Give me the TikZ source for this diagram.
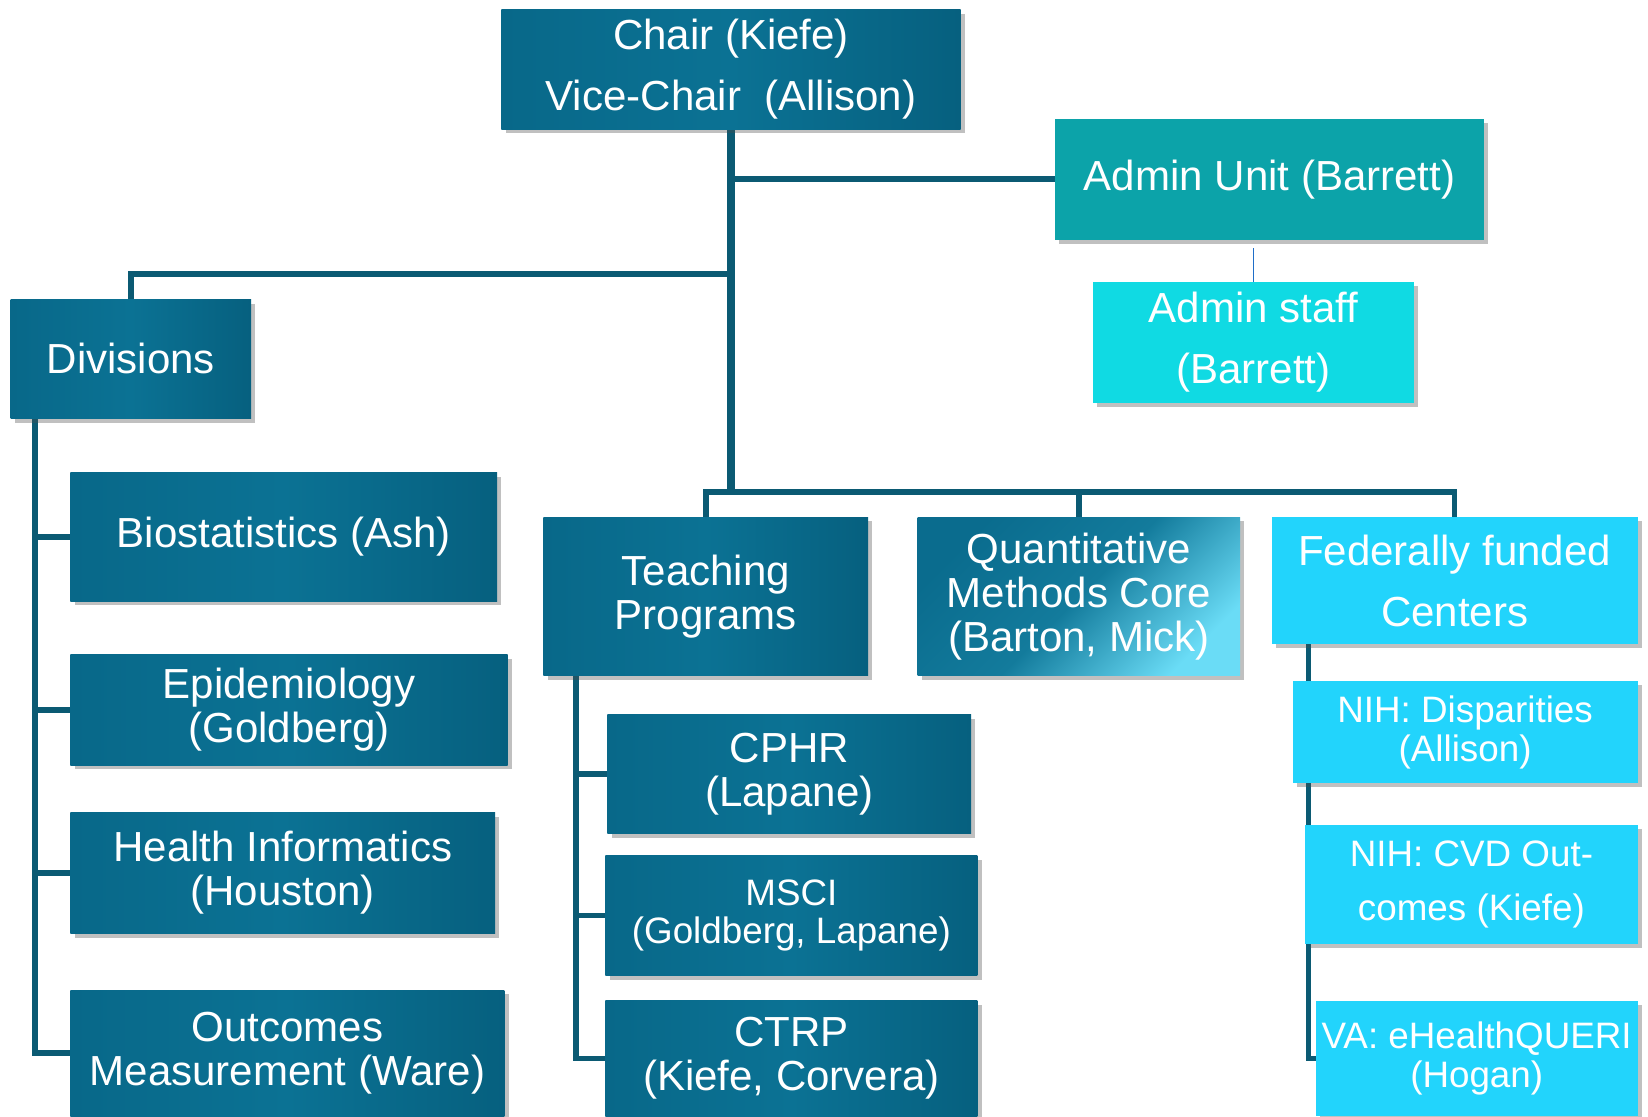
\documentclass[tikz,border=0pt]{standalone}
\usepackage{fontspec}
\setmainfont{Liberation Sans}
\usetikzlibrary{shadows,backgrounds,calc}
\definecolor{boxA}{HTML}{086889}
\definecolor{boxB}{HTML}{0B7294}
\definecolor{boxC}{HTML}{06607F}
\definecolor{qA}{HTML}{0A6C8E}
\definecolor{qB}{HTML}{137B9C}
\definecolor{qC}{HTML}{6ADCF6}
\definecolor{adminc}{HTML}{0CA3A9}
\definecolor{staffc}{HTML}{10DAE3}
\definecolor{fedc}{HTML}{22D4FC}
\definecolor{linec}{HTML}{0B5A73}
\definecolor{thinblue}{HTML}{1F6EC8}
\tikzset{
  base/.style={inner sep=0pt, outer sep=0pt, align=center, text=white,
    font=\fontsize{20}{21}\selectfont,
    drop shadow={shadow xshift=2pt, shadow yshift=-2pt, opacity=0.35, fill=black!70}},
  darkbox/.style={base, left color=boxA, right color=boxC, middle color=boxB},
  quantbox/.style={base, left color=qA, right color=qC, middle color=qB, shading angle=45},
  adminbox/.style={base, fill=adminc},
  staffbox/.style={base, fill=staffc},
  fedbox/.style={base, fill=fedc},
  widelines/.style={font=\fontsize{20}{29}\selectfont},
  smalltext/.style={font=\fontsize{17.5}{18.5}\selectfont},
  conn/.style={draw=linec, line width=2.7pt},
  trunk/.style={draw=linec, line width=3.4pt},
  thinconn/.style={draw=thinblue, line width=0.7pt},
  sz/.style 2 args={minimum width=#1pt, minimum height=#2pt}
}
\begin{document}
\begin{tikzpicture}[x=0.5pt,y=-0.5pt]
\useasboundingbox (0,0) rectangle (1568,1062);
\clip (0,0) rectangle (1568,1062);

\node[darkbox, widelines, sz={218.5}{57}] (chair) at (695.5,66) {Chair (Kiefe)\\Vice-Chair\ \ (Allison)};
\node[adminbox, sz={204}{57.5}] (admin) at (1208,170.5) {Admin Unit (Barrett)};
\node[staffbox, widelines, sz={152.5}{57.5}] (staff) at (1192.5,325.5) {Admin staff\\(Barrett)};

\node[darkbox, sz={114.5}{56.5}] (div) at (124.5,341.5) {Divisions};
\node[darkbox, sz={203}{61}] (bio) at (270,511) {Biostatistics (Ash)};
\node[darkbox, sz={208}{52.5}] (epi) at (275,675.5) {Epidemiology\\(Goldberg)};
\node[darkbox, sz={202}{57.5}] (hi) at (269,830.5) {Health Informatics\\(Houston)};
\node[darkbox, sz={206.5}{60}] (out) at (273.5,1002) {Outcomes\\Measurement (Ware)};

\node[darkbox, sz={154.5}{75.5}] (teach) at (671.5,567.5) {Teaching\\Programs};
\node[quantbox, sz={153.5}{75.5}] (quant) at (1026.5,567.5) {Quantitative\\Methods Core\\(Barton, Mick)};
\node[fedbox, widelines, sz={174}{60.5}] (fed) at (1384,552.5) {Federally funded\\Centers};

\node[fedbox, smalltext, sz={164}{48.5}] (nihd) at (1394,696.5) {NIH: Disparities\\(Allison)};
\node[fedbox, font=\fontsize{17.5}{26}\selectfont, sz={158}{56.5}] (nihc) at (1400,841.5) {NIH: CVD Out-\\comes (Kiefe)};
\node[fedbox, smalltext, sz={153}{55}] (va) at (1405,1007) {VA: eHealthQUERI\\(Hogan)};

\node[darkbox, sz={173}{56.5}] (cphr) at (751,736.5) {CPHR\\(Lapane)};
\node[darkbox, smalltext, sz={177}{57}] (msci) at (753,871) {MSCI\\(Goldberg, Lapane)};
\node[darkbox, sz={177}{55}] (ctrp) at (753,1007) {CTRP\\(Kiefe, Corvera)};

\begin{pgfonlayer}{background}
  \fill[white] (0,0) rectangle (1568,1062);
  \coordinate (bus) at (0,468);
  \coordinate (dj) at (0,261);
  \coordinate (ls) at ($(div.south west)+(23,0)$);
  \coordinate (ts) at ($(teach.south west)+(31,0)$);
  \coordinate (fs) at ($(fed.south west)+(35,0)$);
  \draw[trunk] (chair.south) -- (chair.south |- bus);
  \draw[conn] (chair.south |- admin.west) -- (admin.west);
  \draw[conn] (div.north) |- (chair.south |- dj);
  \draw[conn] (teach.north) -- (teach.north |- bus) -- (fed.north |- bus) -- (fed.north);
  \draw[conn] (quant.north) -- (quant.north |- bus);
  \draw[conn] (ls) |- (out.west);
  \draw[conn] (ls |- bio.west) -- (bio.west);
  \draw[conn] (ls |- epi.west) -- (epi.west);
  \draw[conn] (ls |- hi.west) -- (hi.west);
  \draw[conn] (ts) |- (ctrp.west);
  \draw[conn] (ts |- cphr.west) -- (cphr.west);
  \draw[conn] (ts |- msci.west) -- (msci.west);
  \draw[conn] (fs) |- (va.west);
  \draw[thinconn] (staff.north) -- ++(0,-32);
\end{pgfonlayer}
\end{tikzpicture}
\end{document}
